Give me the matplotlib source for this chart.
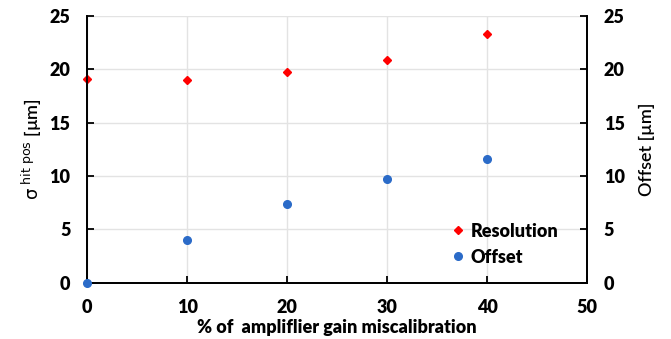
import matplotlib
matplotlib.use("Agg")
import matplotlib.pyplot as plt

plt.rcParams['font.family'] = ['Lato', 'DejaVu Sans']
plt.rcParams['mathtext.fontset'] = 'dejavusans'

# gain miscalibration in percent
miscal = [0, 10, 20, 30, 40]
resolution = [19.1, 18.95, 19.7, 20.9, 23.3]
offset = [0.0, 4.0, 7.4, 9.7, 11.6]

fig = plt.figure(figsize=(6.71, 3.39), dpi=100)
ax = fig.add_axes([0.130, 0.166, 0.745, 0.787])
ax2 = ax.twinx()

ax.set_xlim(0, 50)
ax.set_ylim(0, 25)
ax2.set_ylim(0, 25)
ax.set_xticks(range(0, 51, 10))
ax.set_yticks(range(0, 26, 5))
ax2.set_yticks(range(0, 26, 5))

ax.grid(True, color='#e3e3e3', linewidth=1.0, zorder=0)
ax.set_axisbelow(True)

p1, = ax.plot(miscal, resolution, linestyle='none', marker='D', markersize=4.5,
              color='#ff0000', clip_on=False, zorder=5, label='Resolution')
p2, = ax2.plot(miscal, offset, linestyle='none', marker='o', markersize=5.5,
               color='#2b6bc8', clip_on=False, zorder=5, label='Offset')

for a in (ax, ax2):
    a.spines['top'].set_visible(False)
    for s in ('left', 'right', 'bottom'):
        a.spines[s].set_color('black')
        a.spines[s].set_linewidth(1.3)
    a.tick_params(direction='in', length=5, width=1.3, labelsize=13)
    for lab in a.get_xticklabels() + a.get_yticklabels():
        lab.set_fontweight('heavy')
ax.tick_params(axis='x', pad=12)
ax.tick_params(axis='y', pad=12)
ax2.tick_params(axis='y', pad=12)

ax.set_xlabel('% of  ampliflier gain miscalibration', fontsize=13,
              fontweight='heavy', labelpad=2)
ax.set_ylabel(r'$\mathsf{\sigma}^{\mathsf{\ hit\ pos}}$ [µm]', fontsize=13,
              fontweight='semibold', labelpad=4)
ax2.set_ylabel('Offset [µm]', fontsize=13, fontweight='semibold', labelpad=10)

leg = ax.legend(handles=[p1, p2], loc='lower right', bbox_to_anchor=(0.96, 0.03),
                frameon=False, handletextpad=0.1, handlelength=1.2, borderpad=0,
                labelspacing=0.5, prop={'weight': 'heavy', 'size': 13})

fig.savefig('out.png', dpi=100)
